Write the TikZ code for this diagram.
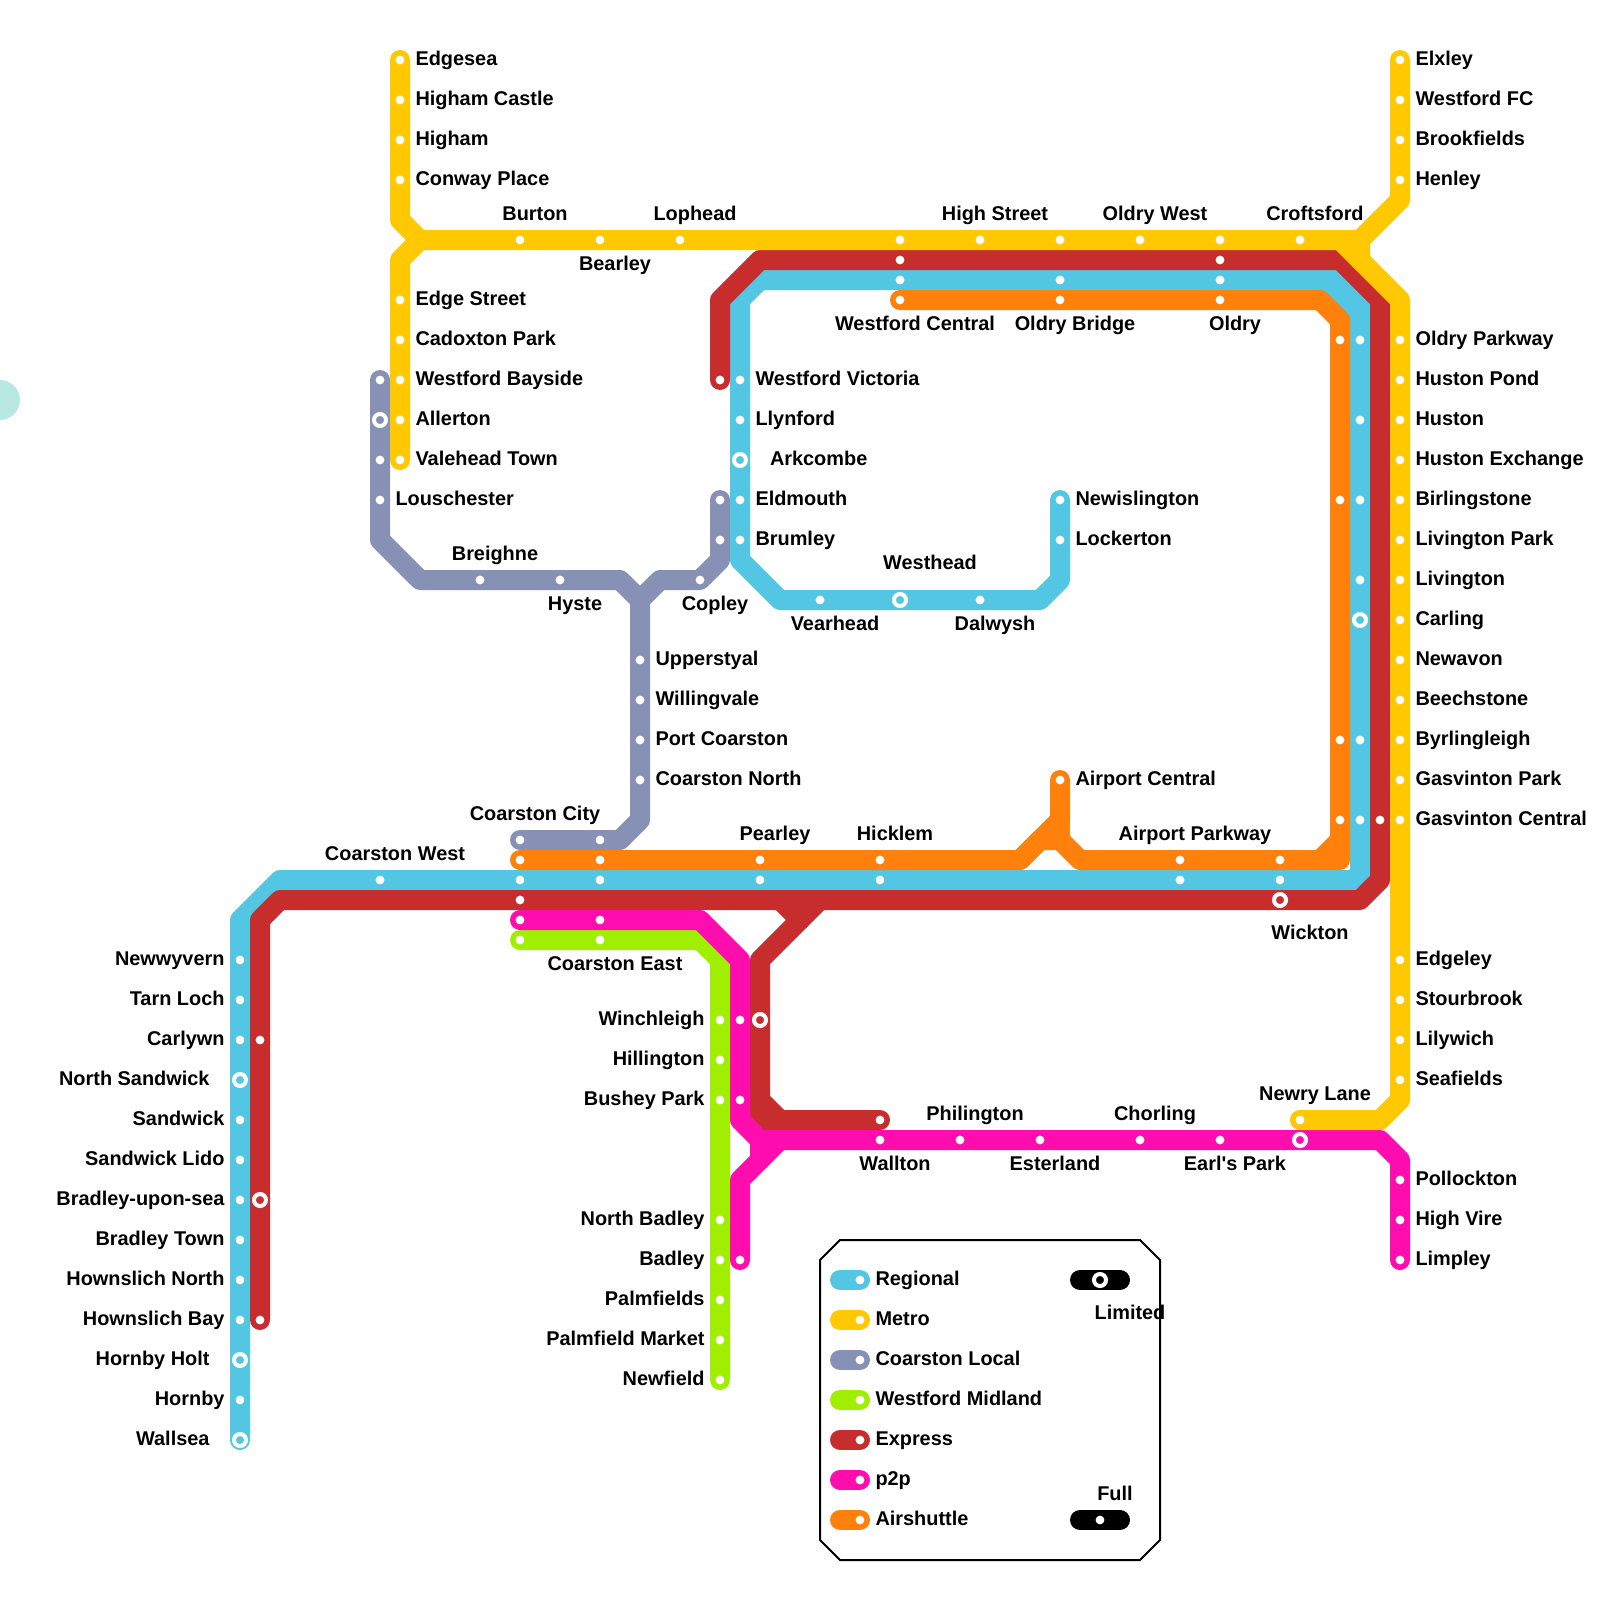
\documentclass[tikz,border=0pt]{standalone}
\usepackage{fontspec}
\setmainfont{Liberation Sans}
\newfontfamily\plainapos{Liberation Sans}
\pgfdeclarelayer{lines}
\pgfsetlayers{lines,main}
\definecolor{cRegional}{HTML}{53C6E3}
\definecolor{cMetro}{HTML}{FFC800}
\definecolor{cLocal}{HTML}{8791B5}
\definecolor{cMidland}{HTML}{A0EF00}
\definecolor{cExpress}{HTML}{C82D2D}
\definecolor{cPtp}{HTML}{FF0DAE}
\definecolor{cAir}{HTML}{FF800A}
\definecolor{cTeal}{HTML}{B9E8E3}
\tikzset{
  x=0.5pt,y=-0.5pt,
  railline/.style={line width=10pt,line cap=round,line join=round},
  regional/.style={railline,draw=cRegional},
  metro/.style={railline,draw=cMetro},
  local/.style={railline,draw=cLocal},
  midland/.style={railline,draw=cMidland},
  express/.style={railline,draw=cExpress},
  ptp/.style={railline,draw=cPtp},
  air/.style={railline,draw=cAir},
  blackbar/.style={railline,draw=black},
  stopdot/.style={circle,fill=white,inner sep=0pt,outer sep=0pt,minimum size=4.4pt},
  ringdot/.style={circle,draw=white,line width=2pt,inner sep=0pt,outer sep=0pt,minimum size=6pt},
  lbl/.style={inner sep=0pt,outer sep=0pt,text=black,font=\bfseries\fontsize{9.95}{12}\selectfont},
  lblr/.style={lbl,anchor=base west},
  lbll/.style={lbl,anchor=base east},
  lblc/.style={lbl,anchor=base},
  frame/.style={draw=black,line width=1pt,line join=miter},
}
% dot only / ring only
\newcommand{\stD}[3]{\node[stopdot] (#1) at (#2,#3) {};}
\newcommand{\stO}[3]{\node[ringdot] (#1) at (#2,#3) {};}
% dot + label right / left / above / below
\newcommand{\stR}[4]{\stD{#1}{#2}{#3}\node[lblr] (l#1) at ([shift={(15.5,5.3)}]#1.center) {#4};}
\newcommand{\stL}[4]{\stD{#1}{#2}{#3}\node[lbll] (l#1) at ([shift={(-15.5,5.3)}]#1.center) {#4};}
\newcommand{\stA}[4]{\stD{#1}{#2}{#3}\node[lblc] (l#1) at ([shift={(15,-19.7)}]#1.center) {#4};}
\newcommand{\stB}[4]{\stD{#1}{#2}{#3}\node[lblc] (l#1) at ([shift={(15,30.2)}]#1.center) {#4};}
% ring + label
\newcommand{\riR}[4]{\stO{#1}{#2}{#3}\node[lblr] (l#1) at ([shift={(30,5.3)}]#1.center) {#4};}
\newcommand{\riL}[4]{\stO{#1}{#2}{#3}\node[lbll] (l#1) at ([shift={(-30.5,5.3)}]#1.center) {#4};}
\newcommand{\riA}[4]{\stO{#1}{#2}{#3}\node[lblc] (l#1) at ([shift={(30,-30.2)}]#1.center) {#4};}
\newcommand{\riB}[4]{\stO{#1}{#2}{#3}\node[lblc] (l#1) at ([shift={(30,39.7)}]#1.center) {#4};}
\begin{document}
\begin{tikzpicture}
\clip (0,0) rectangle (1600,1600);
\begin{pgfonlayer}{lines}
\fill[white] (0,0) rectangle (1600,1600);
\end{pgfonlayer}
\fill[cTeal] (0,400) circle[radius=20];

% ---- Metro
\stR{Edgesea}{400}{60}{Edgesea}
\stR{HighamCastle}{400}{100}{Higham Castle}
\stR{Higham}{400}{140}{Higham}
\stR{ConwayPlace}{400}{180}{Conway Place}
\stA{Burton}{520}{240}{Burton}
\stB{Bearley}{600}{240}{Bearley}
\stA{Lophead}{680}{240}{Lophead}
\stD{mA}{900}{240}
\stA{HighStreet}{980}{240}{High Street}
\stD{mB}{1060}{240}
\stA{OldryWest}{1140}{240}{Oldry West}
\stD{mC}{1220}{240}
\stA{Croftsford}{1300}{240}{Croftsford}
\stR{EdgeStreet}{400}{300}{Edge Street}
\stR{CadoxtonPark}{400}{340}{Cadoxton Park}
\stR{WestfordBayside}{400}{380}{Westford Bayside}
\stR{Allerton}{400}{420}{Allerton}
\stR{ValeheadTown}{400}{460}{Valehead Town}
\stR{Elxley}{1400}{60}{Elxley}
\stR{WestfordFC}{1400}{100}{Westford FC}
\stR{Brookfields}{1400}{140}{Brookfields}
\stR{Henley}{1400}{180}{Henley}
\stR{OldryParkway}{1400}{340}{Oldry Parkway}
\stR{HustonPond}{1400}{380}{Huston Pond}
\stR{Huston}{1400}{420}{Huston}
\stR{HustonExchange}{1400}{460}{Huston Exchange}
\stR{Birlingstone}{1400}{500}{Birlingstone}
\stR{LivingtonPark}{1400}{540}{Livington Park}
\stR{Livington}{1400}{580}{Livington}
\stR{Carling}{1400}{620}{Carling}
\stR{Newavon}{1400}{660}{Newavon}
\stR{Beechstone}{1400}{700}{Beechstone}
\stR{Byrlingleigh}{1400}{740}{Byrlingleigh}
\stR{GasvintonPark}{1400}{780}{Gasvinton Park}
\stR{GasvintonCentral}{1400}{820}{Gasvinton Central}
\stR{Edgeley}{1400}{960}{Edgeley}
\stR{Stourbrook}{1400}{1000}{Stourbrook}
\stR{Lilywich}{1400}{1040}{Lilywich}
\stR{Seafields}{1400}{1080}{Seafields}
\stA{NewryLane}{1300}{1120}{Newry Lane}

% ---- Express
\stD{eA}{900}{260}
\stD{eB}{1220}{260}
\stD{eC}{720}{380}
\stD{eD}{1380}{820}
\stD{eE}{520}{900}
\riB{Wickton}{1280}{900}{Wickton}
\stD{eF}{260}{1040}
\stO{eG}{260}{1200}
\stD{eH}{260}{1320}
\stO{eI}{760}{1020}
\stD{eJ}{880}{1120}

% ---- Regional
\stD{rA}{900}{280}
\stD{rB}{1060}{280}
\stD{rC}{1220}{280}
\stR{WestfordVictoria}{740}{380}{Westford Victoria}
\stR{Llynford}{740}{420}{Llynford}
\riR{Arkcombe}{740}{460}{Arkcombe}
\stR{Eldmouth}{740}{500}{Eldmouth}
\stR{Brumley}{740}{540}{Brumley}
\stR{Newislington}{1060}{500}{Newislington}
\stR{Lockerton}{1060}{540}{Lockerton}
\stB{Vearhead}{820}{600}{Vearhead}
\riA{Westhead}{900}{600}{Westhead}
\stB{Dalwysh}{980}{600}{Dalwysh}
\stD{rD}{1360}{340}
\stD{rE}{1360}{420}
\stD{rF}{1360}{500}
\stD{rG}{1360}{580}
\stO{rH}{1360}{620}
\stD{rI}{1360}{740}
\stD{rJ}{1360}{820}
\stA{CoarstonWest}{380}{880}{Coarston West}
\stD{rK}{520}{880}
\stD{rL}{600}{880}
\stD{rM}{760}{880}
\stD{rN}{880}{880}
\stD{rO}{1180}{880}
\stD{rP}{1280}{880}
\stL{Newwyvern}{240}{960}{Newwyvern}
\stL{TarnLoch}{240}{1000}{Tarn Loch}
\stL{Carlywn}{240}{1040}{Carlywn}
\riL{NorthSandwick}{240}{1080}{North Sandwick}
\stL{Sandwick}{240}{1120}{Sandwick}
\stL{SandwickLido}{240}{1160}{Sandwick Lido}
\stL{BradleyUponSea}{240}{1200}{Bradley-upon-sea}
\stL{BradleyTown}{240}{1240}{Bradley Town}
\stL{HownslichNorth}{240}{1280}{Hownslich North}
\stL{HownslichBay}{240}{1320}{Hownslich Bay}
\riL{HornbyHolt}{240}{1360}{Hornby Holt}
\stL{Hornby}{240}{1400}{Hornby}
\riL{Wallsea}{240}{1440}{Wallsea}

% ---- Airshuttle
\stB{WestfordCentral}{900}{300}{Westford Central}
\stB{OldryBridge}{1060}{300}{Oldry Bridge}
\stB{Oldry}{1220}{300}{Oldry}
\stD{aA}{1340}{340}
\stD{aB}{1340}{500}
\stD{aC}{1340}{740}
\stD{aD}{1340}{820}
\stR{AirportCentral}{1060}{780}{Airport Central}
\stD{aE}{520}{860}
\stD{aF}{600}{860}
\stA{Pearley}{760}{860}{Pearley}
\stA{Hicklem}{880}{860}{Hicklem}
\stA{AirportParkway}{1180}{860}{Airport Parkway}
\stD{aG}{1280}{860}

% ---- Coarston Local
\stD{cA}{380}{380}
\stO{cB}{380}{420}
\stD{cC}{380}{460}
\stR{Louschester}{380}{500}{Louschester}
\stA{Breighne}{480}{580}{Breighne}
\stB{Hyste}{560}{580}{Hyste}
\stB{Copley}{700}{580}{Copley}
\stD{cD}{720}{500}
\stD{cE}{720}{540}
\stR{Upperstyal}{640}{660}{Upperstyal}
\stR{Willingvale}{640}{700}{Willingvale}
\stR{PortCoarston}{640}{740}{Port Coarston}
\stR{CoarstonNorth}{640}{780}{Coarston North}
\stA{CoarstonCity}{520}{840}{Coarston City}
\stD{cF}{600}{840}

% ---- p2p
\stD{pA}{520}{920}
\stD{pB}{600}{920}
\stD{pC}{740}{1020}
\stD{pD}{740}{1100}
\stD{pL}{740}{1260}
\stB{Wallton}{880}{1140}{Wallton}
\stA{Philington}{960}{1140}{Philington}
\stB{Esterland}{1040}{1140}{Esterland}
\stA{Chorling}{1140}{1140}{Chorling}
\stB{EarlsPark}{1220}{1140}{{\plainapos\bfseries Earl's Park}}
\stO{pE}{1300}{1140}
\stR{Pollockton}{1400}{1180}{Pollockton}
\stR{HighVire}{1400}{1220}{High Vire}
\stR{Limpley}{1400}{1260}{Limpley}

% ---- Westford Midland
\stD{gA}{520}{940}
\stB{CoarstonEast}{600}{940}{Coarston East}
\stL{Winchleigh}{720}{1020}{Winchleigh}
\stL{Hillington}{720}{1060}{Hillington}
\stL{BusheyPark}{720}{1100}{Bushey Park}
\stL{NorthBadley}{720}{1220}{North Badley}
\stL{Badley}{720}{1260}{Badley}
\stL{Palmfields}{720}{1300}{Palmfields}
\stL{PalmfieldMarket}{720}{1340}{Palmfield Market}
\stL{Newfield}{720}{1380}{Newfield}

% ---- Legend
\begin{pgfonlayer}{lines}
\draw[frame] (840,1240) -- (1140,1240) -- (1160,1260) -- (1160,1540) -- (1140,1560) -- (840,1560) -- (820,1540) -- (820,1260) -- cycle;
\end{pgfonlayer}
\stR{kRegional}{860}{1280}{Regional}
\stR{kMetro}{860}{1320}{Metro}
\stR{kLocal}{860}{1360}{Coarston Local}
\stR{kMidland}{860}{1400}{Westford Midland}
\stR{kExpress}{860}{1440}{Express}
\stR{kPtp}{860}{1480}{p2p}
\stR{kAir}{860}{1520}{Airshuttle}
\riB{kLimited}{1100}{1280}{Limited}
\stA{kFull}{1100}{1520}{Full}
\coordinate (kaL) at (840,1280);
\coordinate (kbL) at (840,1320);
\coordinate (kcL) at (840,1360);
\coordinate (kdL) at (840,1400);
\coordinate (keL) at (840,1440);
\coordinate (kfL) at (840,1480);
\coordinate (kgL) at (840,1520);
\coordinate (khL) at (1080,1280);
\coordinate (khR) at (1120,1280);
\coordinate (kiL) at (1080,1520);
\coordinate (kiR) at (1120,1520);

\begin{pgfonlayer}{lines}
% Westford Midland
\draw[midland] (gA.center) -- (700,940) -- (720,960) -- (Newfield.center);
% Coarston Local
\draw[local] (cA.center) -- (380,540) -- (420,580) -- (620,580) -- (640,600) -- (640,820) -- (620,840) -- (CoarstonCity.center);
\draw[local] (cD.center) -- (720,560) -- (Copley.center) -- (660,580) -- (640,600);
% Regional
\draw[regional] (Newislington.center) -- (1060,580) -- (1040,600) -- (780,600) -- (740,560) -- (740,300) -- (760,280) -- (1320,280) -- (1360,320) -- (1360,880) -- (280,880) -- (240,920) -- (Wallsea.center);
\draw[regional] (1320,280) -- (1340,280) -- (1360,300) -- (1360,320);
% Airshuttle
\draw[air] (WestfordCentral.center) -- (1320,300) -- (1340,320) -- (1340,860) -- (1080,860) -- (1060,840) -- (1040,840) -- (1020,860) -- (aE.center);
\draw[air] (1340,840) -- (1320,860);
\draw[air] (1020,860) -- (1060,820) -- (AirportCentral.center);
\draw[air] (1060,820) -- (1060,840);
% Express
\draw[express] (eC.center) -- (720,300) -- (760,260) -- (1340,260) -- (1380,300) -- (1380,880) -- (1360,900) -- (280,900) -- (260,920) -- (eH.center);
\draw[express] (780,900) -- (800,920) -- (760,960) -- (760,1100) -- (780,1120) -- (eJ.center);
\draw[express] (760,1100) -- (760,1120) -- (780,1120);
\draw[express] (820,900) -- (800,920);
% p2p
\draw[ptp] (pA.center) -- (700,920) -- (740,960) -- (740,1120) -- (760,1140) -- (1380,1140) -- (1400,1160) -- (Limpley.center);
\draw[ptp] (760,1140) -- (760,1160);
\draw[ptp] (780,1140) -- (740,1180) -- (pL.center);
% Metro
\draw[metro] (Edgesea.center) -- (400,220) -- (420,240) -- (1360,240);
\draw[metro] (1340,240) -- (1360,260);
\draw[metro] (ValeheadTown.center) -- (400,260) -- (420,240);
\draw[metro] (Elxley.center) -- (1400,200) -- (1360,240) -- (1360,260) -- (1400,300) -- (1400,1100) -- (1380,1120) -- (NewryLane.center);
% Legend swatches
\draw[regional] (kaL) -- (kRegional.center);
\draw[metro] (kbL) -- (kMetro.center);
\draw[local] (kcL) -- (kLocal.center);
\draw[midland] (kdL) -- (kMidland.center);
\draw[express] (keL) -- (kExpress.center);
\draw[ptp] (kfL) -- (kPtp.center);
\draw[air] (kgL) -- (kAir.center);
\draw[blackbar] (khL) -- (khR);
\draw[blackbar] (kiL) -- (kiR);
\end{pgfonlayer}
\end{tikzpicture}
\end{document}
